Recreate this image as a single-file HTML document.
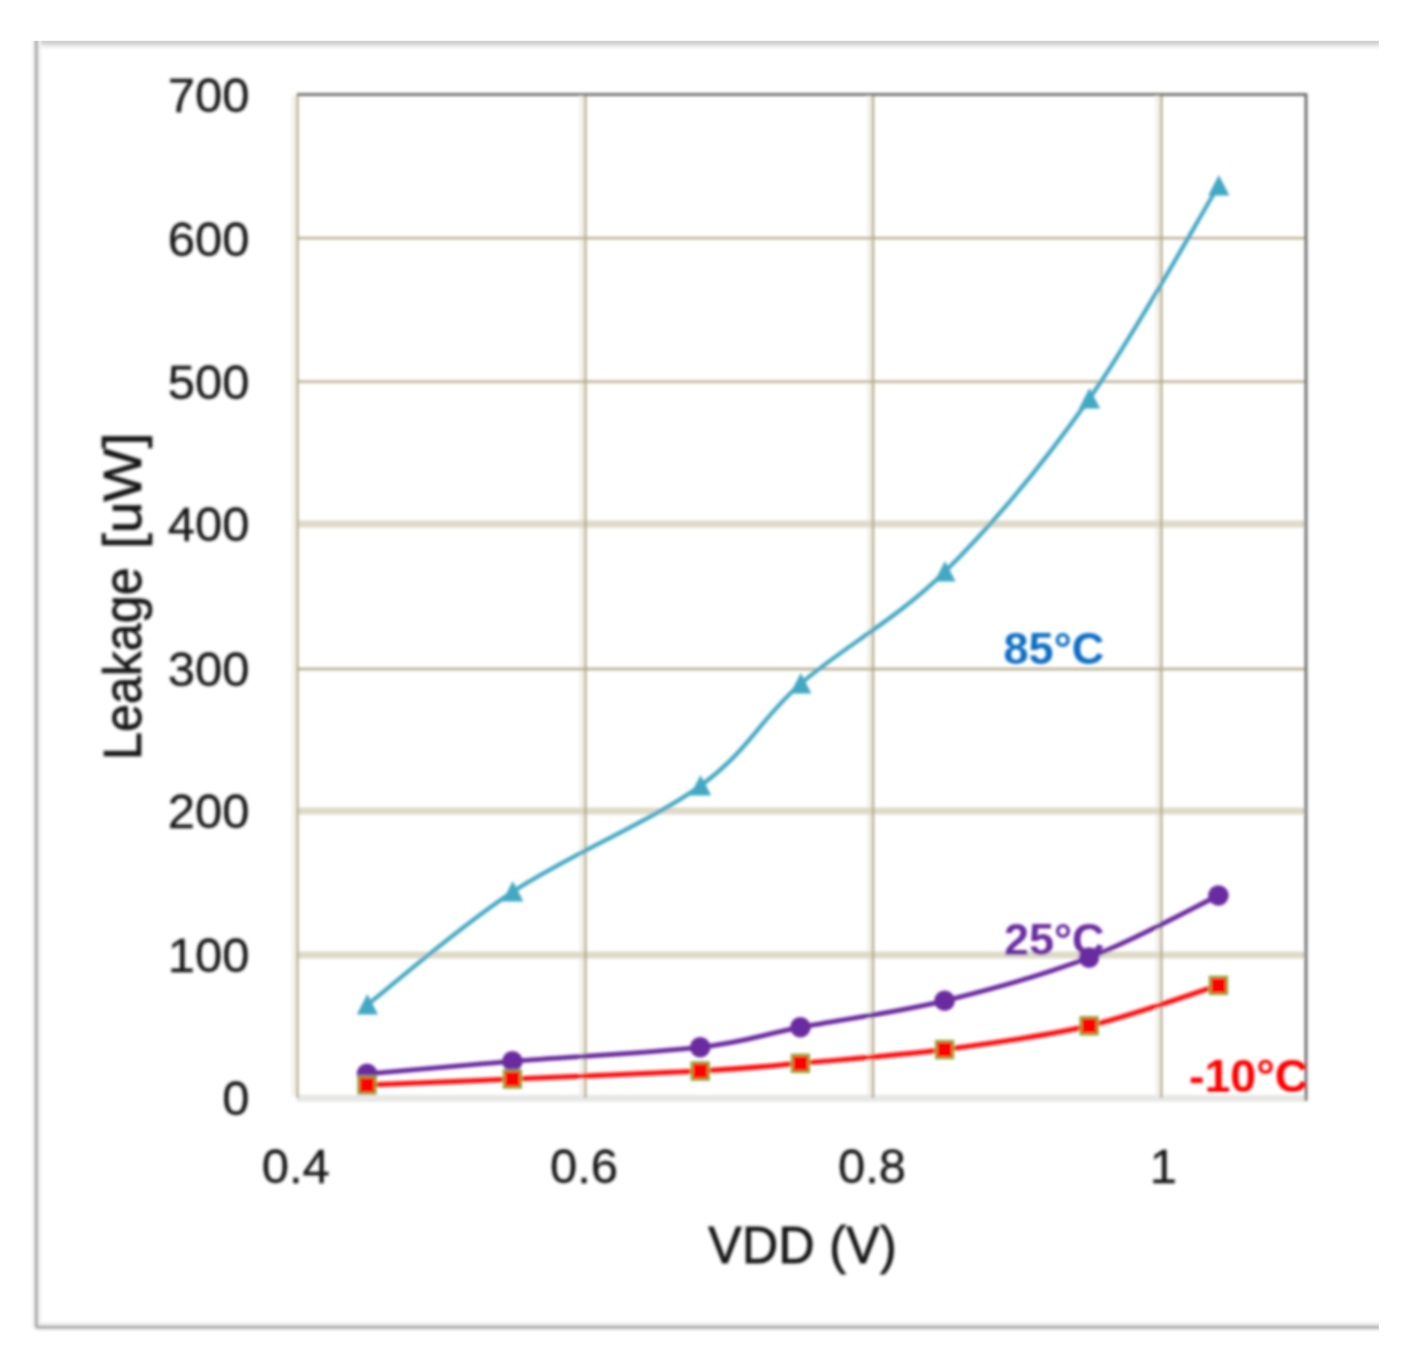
<!DOCTYPE html>
<html>
<head>
<meta charset="utf-8">
<title>Leakage vs VDD</title>
<style>
  html, body { margin: 0; padding: 0; background: #ffffff; }
  body { width: 1410px; height: 1368px; overflow: hidden; font-family: "Liberation Sans", sans-serif; }
  svg { display: block; }
  text { font-family: "Liberation Sans", sans-serif; }
</style>
</head>
<body>
<svg width="1410" height="1368" viewBox="0 0 1410 1368">
  <defs>
    <filter id="soft" x="-2%" y="-2%" width="104%" height="104%">
      <feGaussianBlur stdDeviation="1.35"/>
    </filter>
    <linearGradient id="topfade" x1="0" y1="0" x2="0" y2="1">
      <stop offset="0" stop-color="#cccccc"/>
      <stop offset="0.55" stop-color="#d0d0d0"/>
      <stop offset="0.78" stop-color="#ececec"/>
      <stop offset="1" stop-color="#ffffff"/>
    </linearGradient>
    <clipPath id="plotclip"><rect x="297" y="94" width="1009" height="1006"/></clipPath>
  </defs>
  <rect x="0" y="0" width="1410" height="1368" fill="#ffffff"/>
  <g filter="url(#soft)">
    <!-- outer chart frame (no right edge: image is cropped) -->
    <rect x="36" y="36" width="1350" height="13" fill="url(#topfade)"/>
    <path d="M36.6 36 V1324 Q36.6 1326.6 39.2 1326.6 H1386" fill="none" stroke="#f1f1f1" stroke-width="9"/>
    <path d="M36.3 36 V1325.2 Q36.3 1327.2 38.3 1327.2 H1386" fill="none" stroke="#9d9d9d" stroke-width="2.8"/>

    <!-- horizontal gridlines -->
    <g fill="none">
      <!-- faint left-side halo of the vertical lines -->
      <path d="M293.6 96 V1096 M581.6 96 V1096 M869.4 96 V1096 M1157.6 96 V1096" stroke="#f1efe6" stroke-width="4"/>
      <path d="M297 238.2 H1306 M297 381.6 H1306 M297 669 H1306" stroke="#b2a985" stroke-width="2.3"/>
      <path d="M297 523.9 H1306 M297 811 H1306 M297 955.1 H1306" stroke="#dedac8" stroke-width="7"/>
      <!-- bottom axis -->
      <path d="M297 1098.2 H1306" stroke="#e7e7e5" stroke-width="7"/>
      <!-- vertical gridlines -->
      <path d="M297.4 94 V1098 M585.4 94 V1098 M873 94 V1098 M1161.3 94 V1098" stroke="#b0a883" stroke-width="2.3"/>
      <!-- plot top / right dark border -->
      <path d="M297 94.5 H1306 V1101" stroke="#5c5c5c" stroke-width="2.6"/>
    </g>

    <!-- y tick labels -->
    <g font-size="49" fill="#151515" stroke="#151515" stroke-width="0.35" text-anchor="end">
      <text x="249.5" y="112.2">700</text>
      <text x="249.5" y="255.8">600</text>
      <text x="249.5" y="399.0">500</text>
      <text x="249.5" y="541.2">400</text>
      <text x="249.5" y="686.2">300</text>
      <text x="249.5" y="828.1">200</text>
      <text x="249.5" y="972.0">100</text>
      <text x="249.5" y="1114.8">0</text>
    </g>
    <!-- x tick labels -->
    <g font-size="49" fill="#151515" stroke="#151515" stroke-width="0.35" text-anchor="middle">
      <text x="295.8" y="1182.5">0.4</text>
      <text x="584" y="1182.5">0.6</text>
      <text x="872" y="1182.5">0.8</text>
      <text x="1163.4" y="1182.5">1</text>
    </g>
    <!-- axis titles -->
    <g font-size="50" fill="#151515" stroke="#151515" stroke-width="0.8">
      <text transform="translate(708.2,1263) scale(1,1.05)" x="0" y="0" textLength="188.5" lengthAdjust="spacing">VDD (V)</text>
    </g>
    <g transform="translate(141.4,0) rotate(-90)" font-size="53" fill="#151515" stroke="#151515" stroke-width="0.7">
      <text x="-760" y="0" textLength="192.6" lengthAdjust="spacingAndGlyphs">Leakage</text>
      <text x="-549" y="0" textLength="116.6" lengthAdjust="spacingAndGlyphs">[uW]</text>
    </g>

    <!-- series -->
    <g fill="none" stroke-linecap="round" stroke-linejoin="round">
      <path stroke="#43a8c3" stroke-width="4.2" d="M367.0 1005.0 C391.2 986.2 456.9 928.5 512.4 892.0 C567.9 855.5 652.2 820.7 700.2 786.0 C748.2 751.3 759.7 719.7 800.4 684.0 C841.1 648.3 896.5 619.5 944.6 572.0 C992.7 524.5 1043.5 463.3 1089.1 399.0 C1134.7 334.7 1196.9 221.5 1218.4 186.0"/>
      <path stroke="#6a2aa0" stroke-width="4.8" d="M367.0 1073.8 C391.2 1071.7 456.9 1065.7 512.4 1061.3 C567.9 1056.9 652.2 1052.9 700.2 1047.2 C748.2 1041.5 759.7 1035.0 800.4 1027.3 C841.1 1019.6 896.5 1012.4 944.6 1000.8 C992.7 989.2 1043.5 975.1 1089.1 957.6 C1134.7 940.1 1196.9 905.9 1218.4 895.5"/>
      <path stroke="#ff1010" stroke-width="5" d="M367.0 1085.0 C391.2 1084.0 456.9 1081.3 512.4 1079.0 C567.9 1076.7 652.2 1073.6 700.2 1071.0 C748.2 1068.4 759.7 1066.9 800.4 1063.3 C841.1 1059.7 896.5 1055.8 944.6 1049.6 C992.7 1043.3 1043.5 1036.5 1089.1 1025.8 C1134.7 1015.1 1196.9 992.1 1218.4 985.4"/>
    </g>
    <!-- teal triangle markers -->
    <g fill="#43a8c3">
      <path d="M367.4 994.1 l10.6 20.4 h-21.2 z"/>
      <path d="M512.8 881.1 l10.6 20.4 h-21.2 z"/>
      <path d="M700.6 775.1 l10.6 20.4 h-21.2 z"/>
      <path d="M800.8 673.1 l10.6 20.4 h-21.2 z"/>
      <path d="M945.0 561.1 l10.6 20.4 h-21.2 z"/>
      <path d="M1089.5 388.1 l10.6 20.4 h-21.2 z"/>
      <path d="M1218.8 175.1 l10.6 20.4 h-21.2 z"/>
    </g>
    <!-- purple circle markers -->
    <g fill="#6a2aa0">
      <circle cx="367.0" cy="1073.8" r="10.3"/>
      <circle cx="512.4" cy="1061.3" r="10.3"/>
      <circle cx="700.2" cy="1047.2" r="10.3"/>
      <circle cx="800.4" cy="1027.3" r="10.3"/>
      <circle cx="944.6" cy="1000.8" r="10.3"/>
      <circle cx="1089.1" cy="957.6" r="10.3"/>
      <circle cx="1218.4" cy="895.5" r="10.3"/>
    </g>
    <!-- red square markers with olive-green border -->
    <g fill="#ff0000" stroke="#8ea83f" stroke-width="2.4">
      <rect x="358.5" y="1076.5" width="17" height="17"/>
      <rect x="503.9" y="1070.5" width="17" height="17"/>
      <rect x="691.7" y="1062.5" width="17" height="17"/>
      <rect x="791.9" y="1054.8" width="17" height="17"/>
      <rect x="936.1" y="1041.1" width="17" height="17"/>
      <rect x="1080.6" y="1017.3" width="17" height="17"/>
      <rect x="1209.9" y="976.9" width="17" height="17"/>
    </g>

    <!-- series labels -->
    <g font-size="45" font-weight="bold">
      <text x="1003.6" y="664" fill="#0d6ec5">85°C</text>
      <text x="1004" y="954.6" fill="#6a2aa0">25°C</text>
      <g clip-path="url(#plotclip)"><text x="1189" y="1091.5" font-size="46.5" fill="#ff0000">-10°C</text></g>
    </g>
  </g>
  <!-- hard crop edges of the original capture -->
  <rect x="0" y="0" width="1410" height="40.8" fill="#ffffff"/>
  <rect x="1378.8" y="0" width="32" height="1368" fill="#ffffff"/>
</svg>
</body>
</html>
